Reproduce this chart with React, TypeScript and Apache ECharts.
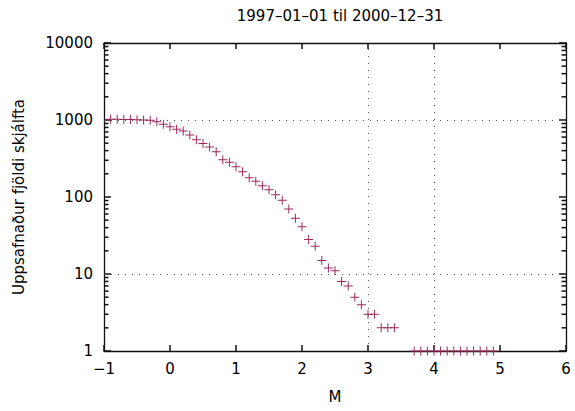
import React, { useEffect, useRef } from "react";
import * as echarts from "echarts";

const titleText = "1997–01–01 til 2000–12–31";
const xName = "M";
const yName = "Uppsafnaður fjöldi skjálfta";

const magnitudes = [
  -0.9, -0.8, -0.7, -0.6, -0.5, -0.4, -0.3, -0.2, -0.1, 0.0,
  0.1, 0.2, 0.3, 0.4, 0.5, 0.6, 0.7, 0.8, 0.9, 1.0,
  1.1, 1.2, 1.3, 1.4, 1.5, 1.6, 1.7, 1.8, 1.9, 2.0,
  2.1, 2.2, 2.3, 2.4, 2.5, 2.6, 2.7, 2.8, 2.9, 3.0,
  3.1, 3.2, 3.3, 3.4,
  3.7, 3.8, 3.9, 4.0, 4.1, 4.2, 4.3, 4.4, 4.5, 4.6, 4.7, 4.8, 4.9,
];
const counts = [
  1020, 1019, 1018, 1016, 1008, 1000, 990, 950, 880, 820,
  757, 718, 638, 552, 494, 446, 388, 305, 282, 248,
  213, 178, 160, 140, 124, 107, 91, 70, 53, 41,
  28, 23, 15, 12, 11, 8, 7, 5, 4, 3,
  3, 2, 2, 2,
  1, 1, 1, 1, 1, 1, 1, 1, 1, 1, 1, 1, 1,
];

const xTicks = [-1, 0, 1, 2, 3, 4, 5, 6];
const yDecades = [1, 10, 100, 1000, 10000];
const minorMultipliers = [2, 3, 4, 5, 6, 7, 8, 9];
const gridX = [3, 4];
const gridY = [10, 1000];

const FONT = "DejaVu Sans";
const INK = "#111";
const MARK = "#9c2a5c";

export default function App() {
  const ref = useRef<HTMLDivElement>(null);
  useEffect(() => {
    if (!ref.current) return;
    const chart = echarts.init(ref.current, undefined, { renderer: "svg" });

    const xMin = xTicks[0];
    const xMax = xTicks[xTicks.length - 1];

    const minorVals: number[] = [];
    yDecades.slice(0, -1).forEach((d) => minorMultipliers.forEach((k) => minorVals.push(k * d)));

    const axisCommon = {
      axisLine: { show: true, onZero: false, lineStyle: { color: INK, width: 1.3 } },
      splitLine: { show: false },
    };
    const tickStyle = { color: INK, width: 1.5 };

    // Minor ticks drawn by a custom series through the axes' own scales
    const minorTickSeries = {
      type: "custom",
      coordinateSystem: "cartesian2d",
      xAxisIndex: 0,
      yAxisIndex: 0,
      silent: true,
      clip: false,
      z: 4,
      encode: { x: 0, y: 1 },
      data: minorVals.map((v) => [xMin, v]),
      renderItem: (_params: any, api: any) => {
        const v = api.value(1);
        const l = api.coord([xMin, v]);
        const r = api.coord([xMax, v]);
        return {
          type: "group",
          children: [
            {
              type: "rect",
              shape: { x: l[0], y: l[1] - 0.75, width: 4.5, height: 1.5 },
              style: { fill: INK },
            },
            {
              type: "rect",
              shape: { x: r[0] - 4.5, y: r[1] - 0.75, width: 4.5, height: 1.5 },
              style: { fill: INK },
            },
          ],
        };
      },
    };

    chart.setOption({
      animation: false,
      backgroundColor: "#fff",
      title: {
        text: titleText,
        left: 335,
        textAlign: "center",
        top: 3,
        textStyle: { fontFamily: FONT, fontSize: 15, fontWeight: "normal", color: "#000" },
      },
      grid: { left: 104, top: 43, width: 462, height: 308 },
      xAxis: [
        {
          type: "value",
          min: xMin,
          max: xMax,
          interval: 1,
          position: "bottom",
          name: xName,
          nameLocation: "middle",
          nameGap: 38,
          nameTextStyle: { fontFamily: FONT, fontSize: 15, color: "#000" },
          axisTick: { show: true, inside: true, length: 6, lineStyle: tickStyle },
          axisLabel: {
            fontFamily: FONT,
            fontSize: 15,
            color: "#000",
            margin: 10,
            formatter: (v: number) => String(v).replace("-", "−"),
          },
          ...axisCommon,
        },
        {
          type: "value",
          min: xMin,
          max: xMax,
          interval: 1,
          position: "top",
          axisTick: { show: true, inside: true, length: 6, lineStyle: tickStyle },
          axisLabel: { show: false },
          ...axisCommon,
        },
      ],
      yAxis: [
        {
          type: "log",
          logBase: 10,
          min: 1,
          max: 10000,
          position: "left",
          name: yName,
          nameLocation: "middle",
          nameGap: 78,
          nameTextStyle: { fontFamily: FONT, fontSize: 15, color: "#000" },
          axisTick: { show: true, inside: true, length: 7, lineStyle: tickStyle },
          axisLabel: {
            fontFamily: FONT,
            fontSize: 15,
            color: "#000",
            margin: 11,
            formatter: (v: number) => String(Math.round(v)),
          },
          ...axisCommon,
        },
        {
          type: "log",
          logBase: 10,
          min: 1,
          max: 10000,
          position: "right",
          axisTick: { show: true, inside: true, length: 7, lineStyle: tickStyle },
          axisLabel: { show: false },
          ...axisCommon,
        },
      ],
      series: [
        minorTickSeries,
        {
          type: "scatter",
          xAxisIndex: 0,
          yAxisIndex: 0,
          data: magnitudes.map((m, i) => [m, counts[i]]),
          symbol: "path://M4,0H5V4H9V5H5V9H4V5H0V4H4Z",
          symbolSize: 9,
          itemStyle: { color: MARK, opacity: 1 },
          clip: false,
          z: 5,
          markLine: {
            silent: true,
            symbol: "none",
            label: { show: false },
            lineStyle: { color: "#555", width: 1, type: [1, 6] },
            data: [
              ...gridX.map((x) => ({ xAxis: x })),
              ...gridY.map((y) => ({ yAxis: y })),
            ],
          },
        },
      ],
    });
    return () => chart.dispose();
  }, []);
  return (
    <div
      ref={ref}
      style={{ position: "absolute", left: 0, top: 0, width: 575, height: 411, background: "#fff" }}
    />
  );
}
